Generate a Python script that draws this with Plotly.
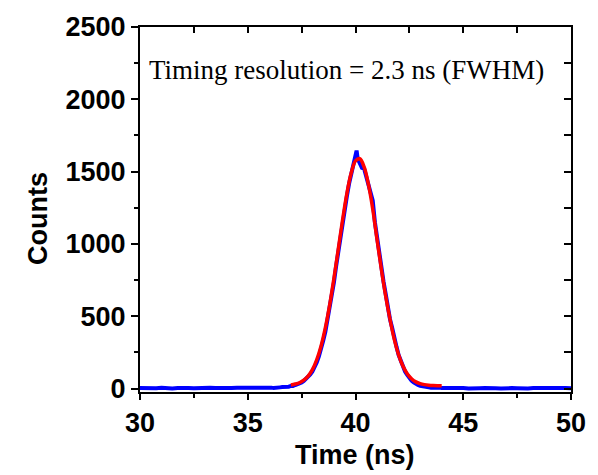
import plotly.graph_objects as go

# ---- data ----
base_left_t = [30.0, 30.25, 30.5, 30.75, 31.0, 31.25, 31.5, 31.75, 32.0, 32.25, 32.5, 32.75,
               33.0, 33.25, 33.5, 33.75, 34.0, 34.25, 34.5, 34.75, 35.0, 35.25, 35.5, 35.75]
base_left_c = [3, 1, 4, 2, 5, 2, 1, 4, 6, 3, 2, 5, 3, 6, 4, 2, 5, 3, 6, 4, 7, 5, 6, 8]

peak_t = [36.0, 36.1, 36.2, 36.3, 36.4, 36.5, 36.6, 36.7, 36.8, 36.9,
          37.0, 37.1, 37.2, 37.3, 37.4, 37.5, 37.6, 37.7, 37.8, 37.9,
          38.0, 38.1, 38.2, 38.3, 38.4, 38.5, 38.6, 38.7, 38.8, 38.9,
          39.0, 39.1, 39.2, 39.3, 39.4, 39.5, 39.6, 39.7, 39.8, 39.9,
          40.0, 40.05, 40.1, 40.2, 40.3, 40.4, 40.5, 40.6, 40.7, 40.8, 40.9,
          41.0, 41.1, 41.2, 41.3, 41.4, 41.5, 41.6, 41.7, 41.8, 41.9,
          42.0, 42.1, 42.2, 42.3, 42.4, 42.5, 42.6, 42.7, 42.8, 42.9,
          43.0, 43.1, 43.2, 43.3, 43.4, 43.5, 43.6, 43.7, 43.8, 43.9, 44.0]
peak_c = [4, 6, 3, 7, 5, 8, 10, 9, 14, 13,
          18, 17, 24, 28, 35, 41, 52, 66, 80, 97,
          118, 147, 180, 222, 268, 330, 392, 470, 548, 640,
          735, 846, 950, 1040, 1150, 1260, 1330, 1415, 1480, 1545,
          1600, 1645, 1590, 1560, 1525, 1520, 1470, 1420, 1365, 1300, 1150,
          1040, 930, 830, 740, 655, 560, 480, 420, 345, 290,
          232, 190, 150, 118, 95, 70, 55, 42, 30, 24,
          18, 14, 12, 9, 8, 6, 7, 5, 4, 6, 3]

base_right_t = [44.25, 44.5, 44.75, 45.0, 45.25, 45.5, 45.75, 46.0, 46.25, 46.5, 46.75,
                47.0, 47.25, 47.5, 47.75, 48.0, 48.25, 48.5, 48.75, 49.0, 49.25, 49.5,
                49.75, 50.0]
base_right_c = [4, 2, 5, 3, 1, 4, 2, 3, 5, 2, 1, 4, 3, 2, 5, 1, 3, 4, 2, 1, 3, 2, 4, 2]

fit_t = [37.0, 37.2, 37.4, 37.6, 37.8, 38.0, 38.2, 38.4, 38.6, 38.8,
         39.0, 39.2, 39.4, 39.6, 39.8, 40.0, 40.2, 40.4, 40.6, 40.8,
         41.0, 41.2, 41.4, 41.6, 41.8, 42.0, 42.2, 42.4, 42.6, 42.8,
         43.0, 43.2, 43.4, 43.6, 43.8, 44.0]
fit_c = [25, 31, 40, 58, 86, 131, 199, 293, 419, 577,
         762, 963, 1165, 1348, 1490, 1574, 1589, 1532, 1411, 1242,
         1030, 825, 640, 479, 340, 233, 155, 102, 68, 46,
         34, 27, 23, 21, 20, 20]

data_t = base_left_t + peak_t + base_right_t
data_c = base_left_c + peak_c + base_right_c

x_ticks = [30, 35, 40, 45, 50]
y_ticks = [0, 500, 1000, 1500, 2000, 2500]
x_range = [30, 50]
y_range = [-24, 2500]

annotation_text = "Timing resolution = 2.3 ns (FWHM)"
x_title = "Time (ns)"
y_title = "Counts"

# ---- figure ----
fig = go.Figure()
fig.add_trace(go.Scatter(x=data_t, y=data_c, mode="lines",
                         line=dict(color="#0000FF", width=4),
                         showlegend=False, hoverinfo="skip"))
fig.add_trace(go.Scatter(x=fit_t, y=fit_c, mode="lines",
                         line=dict(color="#FF0000", width=3.5, shape="spline"),
                         showlegend=False, hoverinfo="skip"))
# invisible trace to activate the mirror axes (top/right, ticks inside)
fig.add_trace(go.Scatter(x=[x_range[0]], y=[y_range[0]], xaxis="x2", yaxis="y2",
                         mode="markers", marker=dict(opacity=0),
                         showlegend=False, hoverinfo="skip"))

bold = dict(family="Liberation Sans, Arial, sans-serif", size=27, color="black", weight="bold")

fig.update_layout(
    width=598, height=475,
    margin=dict(l=140, r=24, t=22, b=83),
    paper_bgcolor="white", plot_bgcolor="white",
    xaxis=dict(range=x_range, tickvals=x_ticks, ticktext=[str(v) for v in x_ticks],
               ticks="outside", ticklen=6, tickwidth=2, tickcolor="black",
               minor=dict(dtick=2.5, tick0=30, ticks="outside", ticklen=4, tickwidth=2, tickcolor="black"),
               showline=True, linewidth=2, linecolor="black", showgrid=False, zeroline=False,
               tickfont=bold, fixedrange=True),
    yaxis=dict(range=y_range, tickvals=y_ticks, ticktext=[str(v) for v in y_ticks],
               ticks="outside", ticklen=7, tickwidth=2, tickcolor="black",
               minor=dict(dtick=250, tick0=0, ticks="outside", ticklen=4, tickwidth=2, tickcolor="black"),
               showline=True, linewidth=2, linecolor="black", showgrid=False, zeroline=False,
               tickfont=bold, fixedrange=True),
    xaxis2=dict(range=x_range, overlaying="x", side="top", dtick=2.5, tick0=30,
                ticks="inside", ticklen=6, tickwidth=2, tickcolor="black",
                showticklabels=False, showline=True, linewidth=2, linecolor="black",
                showgrid=False, zeroline=False, fixedrange=True),
    yaxis2=dict(range=y_range, overlaying="y", side="right", dtick=250, tick0=0,
                ticks="inside", ticklen=7, tickwidth=2, tickcolor="black",
                showticklabels=False, showline=True, linewidth=2, linecolor="black",
                showgrid=False, zeroline=False, fixedrange=True),
    annotations=[
        dict(text=annotation_text, xref="paper", yref="paper", x=0.479, y=0.881,
             xanchor="center", yanchor="middle", showarrow=False,
             font=dict(family="Liberation Serif, Times New Roman, serif", size=27, color="black")),
        dict(text=x_title, xref="paper", yref="paper", x=0.499, y=-0.173,
             xanchor="center", yanchor="middle", showarrow=False, font=bold),
        dict(text=y_title, xref="paper", yref="paper", x=-0.235, y=0.476,
             xanchor="center", yanchor="middle", showarrow=False, textangle=-90, font=bold),
    ],
)

fig.write_html("out.html")
